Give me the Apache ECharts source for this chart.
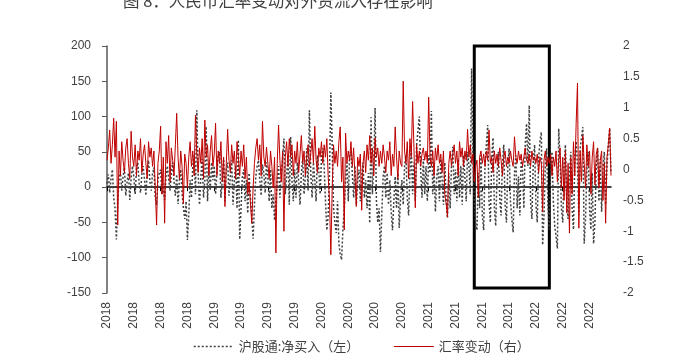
<!DOCTYPE html>
<html>
<head>
<meta charset="utf-8">
<script src="https://cdn.jsdelivr.net/npm/echarts@6/dist/echarts.min.js"></script>
<style>html,body{margin:0;padding:0;background:#fff;}#c{width:674px;height:359px;}</style>
</head>
<body>
<div id="c"></div>
<script>
// Tick labels on the category axis (one per quarter)
var quarterLabels = ['2018','2018','2018','2018','2019','2019','2019','2019','2020','2020','2020','2020','2021','2021','2021','2021','2022','2022','2022'];
var pointsPerQuarter = 20;

// 沪股通:净买入（左）
var netBuy = [
  5,18,-8,12,25,-15,-30,-74,-20,10,22,-5,15,28,-12,8,20,-18,12,30,
  15,-10,25,35,5,-8,18,30,10,-12,22,38,8,-5,20,28,-15,-25,10,20,
  25,-10,5,-18,15,30,12,-5,20,35,8,-12,18,-24,10,25,-8,-30,-45,-20,
  -75,-40,10,-15,30,45,-10,109,20,-25,15,40,-15,10,86,-20,25,-5,35,10,
  30,-10,20,45,50,-15,10,40,-20,25,35,-12,15,38,-25,10,30,-30,67,-74,
  -30,15,25,-20,10,-37,20,-15,-40,-73,-25,15,30,38,10,-12,32,20,-8,35,
  15,-20,25,-30,-10,-47,-20,10,30,-15,20,40,69,-10,15,45,-25,71,10,-20,
  25,-15,35,10,-25,20,40,-10,15,55,-5,109,20,-15,35,10,-20,45,25,-10,
  40,55,30,-20,-61,-40,20,134,60,-30,-50,-65,-20,-80,-95,-103,-60,-30,10,35,
  -20,45,50,20,-15,30,-25,10,25,-20,15,35,-15,10,-30,20,-51,99,-10,30,
  112,-20,-50,-30,-92,-40,15,30,-15,20,-25,10,-35,-61,-20,15,-30,20,-58,-15,
  10,-25,30,45,-15,-40,20,55,-10,35,-20,60,80,100,25,-15,40,-10,30,-20,
  45,20,108,-10,25,-35,15,30,-20,40,10,-25,35,-15,-44,20,-30,30,57,-10,
  25,-20,40,-15,30,-25,45,15,-20,50,30,-10,168,40,-20,-50,-61,20,-30,45,
  -40,-61,30,60,88,-20,-50,40,70,-30,-55,20,50,-15,-40,35,60,-25,-50,30,
  55,-20,-45,-64,20,45,-30,15,-40,40,25,-30,60,90,30,116,-20,-45,35,60,
  -25,-50,40,65,78,-82,-40,30,55,-30,-60,25,50,-20,-55,-70,-87,83,40,-30,
  -50,30,60,-20,-45,20,50,-30,-60,40,65,30,-40,55,70,85,-80,-45,25,50,
  -30,-60,20,-80,-50,30,55,-20,40,-35,25,50,-25,30,60,83,20
];

// 汇率变动（右）
var fxChange = [
  0.15,0.35,0.64,0.1,0.4,0.83,0.2,0.78,-0.9,0.3,-0.1,0.45,0.15,-0.05,0.35,0.5,0.1,-0.15,0.62,0.2,
  0.05,0.4,-0.1,0.3,0.15,0.5,-0.05,0.25,0.4,0.1,-0.15,0.45,0.2,0.35,0.05,0.3,-0.3,-0.9,0.1,0.3,
  0.7,-0.4,0.2,-0.87,0.45,0.1,0.55,-0.2,0.35,0.15,-0.1,0.4,0.91,0.2,-0.15,0.3,0.05,-0.55,0.25,0.1,
  -0.3,0.2,0.45,0.05,0.3,-0.1,0.88,0.25,-0.05,0.35,0.1,0.5,-0.15,0.8,0.2,0.4,-0.1,0.3,0.55,0.05,
  0.25,0.75,-0.1,0.3,0.1,0.45,-0.2,0.2,-0.6,0.1,0.65,0.15,-0.05,0.4,0.1,0.3,-0.15,0.45,0.2,-0.1,
  0.3,0.05,0.4,-0.15,0.2,-0.4,-0.2,-0.55,-0.87,-0.3,0.1,0.35,0.5,0.15,0.4,-0.1,0.78,0.2,0.05,0.36,
  0.1,-0.15,0.3,0.05,-0.3,0.2,-1.35,0.1,0.72,0.15,-0.2,0.3,-1.0,0.2,0.45,0.05,0.5,0.2,0.4,-0.1,
  0.3,0.1,0.45,-0.05,0.25,0.55,0.1,0.3,-0.1,0.2,0.4,0.05,0.25,0.5,0.1,0.7,0.15,-0.05,0.35,0.2,
  0.45,0.1,0.4,0.2,0.5,-0.1,-0.5,-1.38,-0.3,0.4,0.1,0.3,0.05,0.45,0.69,-0.2,0.2,-0.98,0.59,0.1,
  0.3,0.15,0.45,0.05,0.35,-0.1,-0.6,0.2,0.05,0.25,-0.66,0.1,0.3,-0.05,0.4,0.15,0.55,0.1,0.35,-0.1,
  0.51,0.2,0.35,0.05,0.3,0.1,0.4,0.2,-0.05,0.3,0.15,0.45,-0.1,0.25,0.05,0.69,0.2,-0.15,0.3,0.1,
  0.05,1.43,0.3,0.1,0.45,-0.15,0.5,0.2,1.1,0.35,-0.62,0.4,0.1,0.3,0.05,0.25,0.35,0.15,0.3,0.1,
  1.17,0.2,0.05,0.3,-0.1,0.35,0.15,0.4,0.1,0.25,-0.05,0.3,-0.4,-0.55,-0.77,0.1,0.3,0.05,0.25,0.4,
  0.1,0.3,-0.1,0.45,0.2,0.35,0.05,0.3,0.15,0.65,0.2,0.4,0.1,0.25,-0.2,0.05,0.15,-0.45,0.2,0.3,
  0.1,0.25,0.05,0.3,0.15,0.64,0.1,0.2,-0.05,0.3,0.1,0.25,0.05,0.35,0.15,-0.1,0.2,0.3,0.05,0.2,
  0.1,0.3,0.15,0.05,0.53,0.2,0.1,0.3,0.15,0.25,0.05,0.2,0.35,0.15,0.1,0.25,0.05,0.3,0.15,0.2,
  0.1,0.25,-0.05,0.2,0.1,-0.69,0.15,0.3,0.05,0.2,0.1,0.25,-0.1,0.2,0.05,0.3,-0.2,0.15,0.35,-0.3,
  0.2,-0.5,0.3,-0.7,0.1,-1.03,0.2,-0.4,0.45,-0.1,0.75,1.4,-0.95,0.3,-0.2,0.55,0.1,-0.3,0.4,0.05,
  0.3,-0.4,0.2,0.45,-0.25,0.25,0.35,-0.3,0.15,0.3,-0.5,0.1,-0.87,0.2,0.4,0.67,-0.1
];

// highlighted period (category index range) and its value range on the left axis
var boxStartIdx = 274, boxEndIdx = 330;
var boxTop = 204, boxBottom = -143;

var categories = [];
for (var i = 0; i < netBuy.length; i++) {
  categories.push(quarterLabels[Math.min(Math.floor(i / pointsPerQuarter), quarterLabels.length - 1)] + '-' + i);
}

var chart = echarts.init(document.getElementById('c'), null, {renderer: 'canvas'});
var txt = '#404040';
var numFont = 'Liberation Sans';
var cjkFont = 'Noto Sans CJK SC';

chart.setOption({
  animation: false,
  backgroundColor: '#fff',
  graphic: [{
    type: 'text', left: 123, top: -8,
    style: {text: '图 8：人民币汇率变动对外资流入存在影响', font: '16.5px "Noto Sans CJK SC"', fill: '#404040'}
  }],
  grid: {left: 107, right: 63, top: 46, bottom: 66},
  legend: {
    left: 188, top: 335, itemWidth: 40, itemHeight: 14, itemGap: 34,
    textStyle: {fontFamily: cjkFont, fontSize: 13, color: txt},
    itemStyle: {opacity: 0},
    lineStyle: {width: 'inherit', type: 'inherit'},
    data: ['沪股通:净买入（左）', '汇率变动（右）']
  },
  xAxis: [{
    type: 'category', data: categories, boundaryGap: false, position: 'bottom',
    axisLine: {show: false, onZero: false}, axisTick: {show: false},
    axisLabel: {interval: pointsPerQuarter - 1, rotate: 90, margin: 9, fontSize: 12, fontFamily: numFont, color: txt,
      formatter: function (v) { return v.slice(0, 4); }},
    splitLine: {show: false}
  }, {
    type: 'category', data: categories, boundaryGap: false, position: 'bottom',
    axisLine: {show: true, onZero: true, onZeroAxisIndex: 0, lineStyle: {color: '#000', width: 1.5}},
    axisTick: {show: true, interval: pointsPerQuarter - 1, length: 4, lineStyle: {color: '#000'}},
    axisLabel: {show: false}, splitLine: {show: false}
  }],
  yAxis: [{
    type: 'value', min: -150, max: 200, interval: 50, position: 'left',
    axisLine: {show: true, lineStyle: {color: '#595959', width: 1.5}},
    axisTick: {show: true, inside: false, length: 5, lineStyle: {color: '#595959'}},
    axisLabel: {margin: 16, fontSize: 12, fontFamily: numFont, color: txt},
    splitLine: {show: false}
  }, {
    type: 'value', min: -2, max: 2, interval: 0.5, position: 'right',
    axisLine: {show: false}, axisTick: {show: false},
    axisLabel: {margin: 12, fontSize: 12, fontFamily: numFont, color: txt},
    splitLine: {show: false}
  }],
  series: [{
    name: '沪股通:净买入（左）', type: 'line', xAxisIndex: 0, yAxisIndex: 0,
    data: netBuy, showSymbol: false, symbol: 'none', clip: false,
    lineStyle: {color: '#404040', width: 1.5, type: [2, 2]},
    itemStyle: {color: '#404040'},
    markArea: {
      silent: true, label: {show: false},
      itemStyle: {color: 'rgba(0,0,0,0)', borderColor: '#000', borderWidth: 3},
      data: [[{xAxis: boxStartIdx, yAxis: boxTop}, {xAxis: boxEndIdx, yAxis: boxBottom}]]
    },
    z: 2
  }, {
    name: '汇率变动（右）', type: 'line', xAxisIndex: 0, yAxisIndex: 1,
    data: fxChange, showSymbol: false, symbol: 'none',
    lineStyle: {color: '#C00000', width: 1},
    itemStyle: {color: '#C00000'},
    z: 3
  }]
});
</script>
</body>
</html>
